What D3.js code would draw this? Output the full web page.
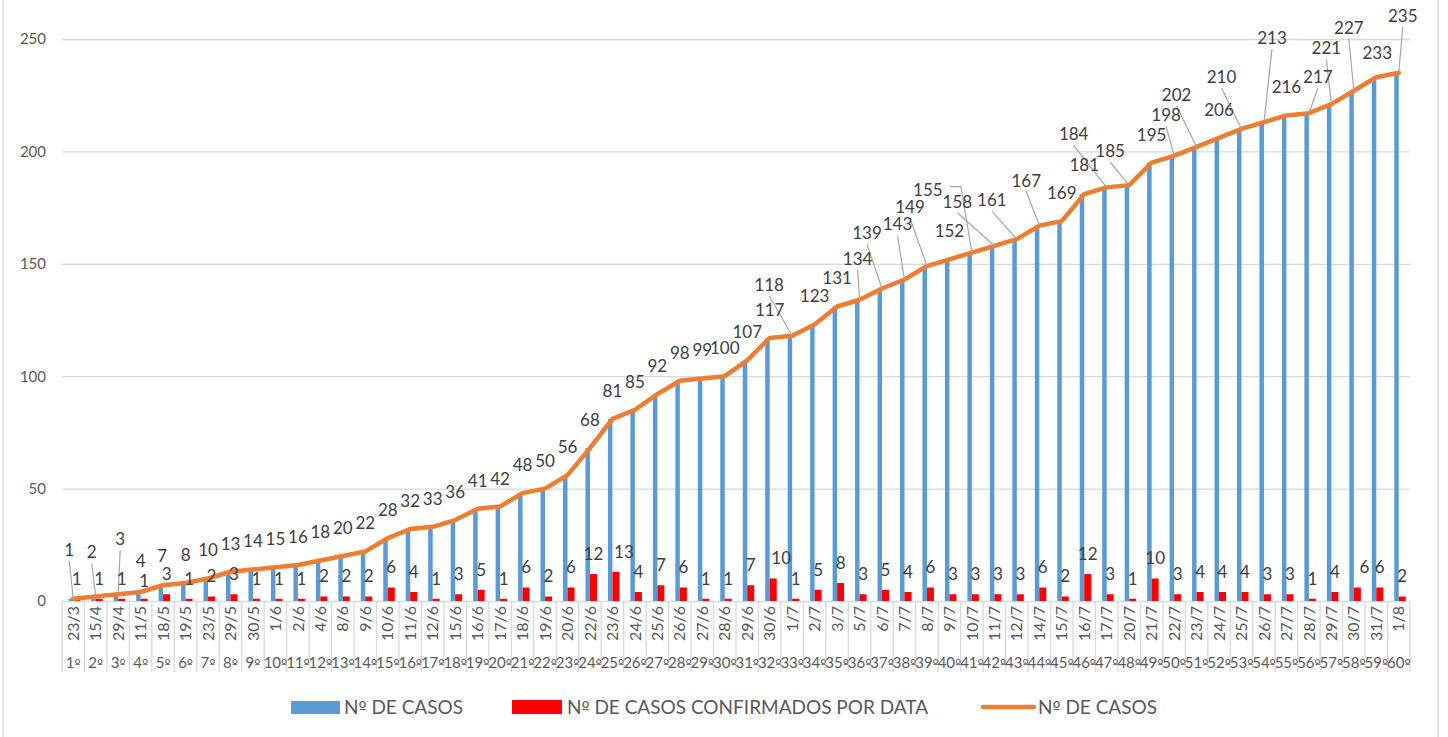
<!DOCTYPE html>
<html>
<head>
<meta charset="utf-8">
<script src="https://cdn.jsdelivr.net/npm/d3@7"></script>
<style>
  body { margin: 0; background: #fff; }
  text { font-family: Lato, "Open Sans", sans-serif; }
  .ord { font-family: "DejaVu Sans", sans-serif; }
</style>
</head>
<body>
<div id="chart"></div>
<script>
var svgWidth = 1448;
var svgHeight = 737;

var chartMargin = { top: 39, right: 38, bottom: 136, left: 62 };
var chartWidth = svgWidth - chartMargin.left - chartMargin.right;
var chartHeight = svgHeight - chartMargin.top - chartMargin.bottom;

// data
var dates = ["23/3","15/4","29/4","11/5","18/5","19/5","23/5","29/5","30/5","1/6",
  "2/6","4/6","8/6","9/6","10/6","11/6","12/6","15/6","16/6","17/6",
  "18/6","19/6","20/6","22/6","23/6","24/6","25/6","26/6","27/6","28/6",
  "29/6","30/6","1/7","2/7","3/7","5/7","6/7","7/7","8/7","9/7",
  "10/7","11/7","12/7","14/7","15/7","16/7","17/7","20/7","21/7","22/7",
  "23/7","24/7","25/7","26/7","27/7","28/7","29/7","30/7","31/7","1/8"];

var dayLabels = ["1º","2º","3º","4º","5º","6º","7º","8º","9º","10º",
  "11º","12º","13º","14º","15º","16º","17º","18º","19º","20º",
  "21º","22º","23º","24º","25º","26º","27º","28º","29º","30º",
  "31º","32º","33º","34º","35º","36º","37º","38º","39º","40º",
  "41º","42º","43º","44º","45º","46º","47º","48º","49º","50º",
  "51º","52º","53º","54º","55º","56º","57º","58º","59º","60º"];

var totalCases = [1,2,3,4,7,8,10,13,14,15,
  16,18,20,22,28,32,33,36,41,42,
  48,50,56,68,81,85,92,98,99,100,
  107,117,118,123,131,134,139,143,149,152,
  155,158,161,167,169,181,184,185,195,198,
  202,206,210,213,216,217,221,227,233,235];

var newCases = [1,1,1,1,3,1,2,3,1,1,
  1,2,2,2,6,4,1,3,5,1,
  6,2,6,12,13,4,7,6,1,1,
  7,10,1,5,8,3,5,4,6,3,
  3,3,3,6,2,12,3,1,10,3,
  4,4,4,3,3,1,4,6,6,2];

var yTicks = [0, 50, 100, 150, 200, 250];

var legendNames = ["Nº DE CASOS", "Nº DE CASOS CONFIRMADOS POR DATA", "Nº DE CASOS"];

// label nudges (dx, dy from the point) where excel moved the label and drew a leader
var lineLabelMoves = {
  0: [-4, -49], 1: [-4, -44], 2: [2, -55],
  32: [-23, -51], 35: [-2, -41], 36: [-15, -55], 37: [-7, -55], 38: [-17, -59],
  40: [-44, -63], 41: [-37, -44], 42: [-25, -39], 43: [-13, -45],
  46: [-33, -53], 47: [-19, -34], 49: [-8, -41], 50: [-20, -52],
  52: [-20, -52], 53: [8, -84], 55: [9, -36], 56: [-5, -56], 57: [-5, -63],
  59: [4, -57]
};
var lineLabelPlain = { 3: [0, -31], 4: [-1, -29], 45: [0, -29], 58: [1, -24] };
var barLabelMoves = { 24: [8, 0], 31: [8, 0], 57: [7, 0], 3: [0, 2] };

// splits "12º" so the ordinal sign can use a font that draws its bar
function ordText(sel, ordSize) {
  sel.each(function(d) {
    var t = d3.select(this);
    var parts = d.split("º");
    t.append("tspan").text(parts[0]);
    t.append("tspan").attr("class", "ord").style("font-size", ordSize).text("º");
    if (parts[1]) t.append("tspan").text(parts[1]);
  });
}

///////////////////////////////////////////////////////////////////////

var svg = d3.select("#chart")
  .append("svg")
  .attr("width", svgWidth)
  .attr("height", svgHeight);

// outer chart frame
svg.append("rect")
  .attr("x", 3).attr("y", -5)
  .attr("width", 1435).attr("height", svgHeight + 10)
  .attr("fill", "none")
  .attr("stroke", "#d9d9d9")
  .attr("stroke-width", 1.3);

var chartGroup = svg.append("g")
  .attr("transform", `translate(${chartMargin.left}, ${chartMargin.top})`);

var xScale = d3.scaleBand()
  .domain(dates)
  .range([0, chartWidth])
  .padding(0);

var yScale = d3.scaleLinear()
  .domain([0, 250])
  .range([chartHeight, 0]);

var bw = xScale.bandwidth();
var cx = function(i) { return xScale(dates[i]) + bw / 2; };

// gridlines + y labels
var yAxis = d3.axisLeft(yScale)
  .tickValues(yTicks)
  .tickSize(-chartWidth)
  .tickPadding(16);

chartGroup.append("g")
  .attr("class", "axis")
  .call(yAxis)
  .call(g => g.select(".domain").remove())
  .call(g => g.selectAll("line").attr("stroke", "#d9d9d9").attr("stroke-width", 1.3))
  .call(g => g.selectAll("text").attr("fill", "#595959").style("font-size", "15px"));

// category boxes under the axis
var sepX = dates.map(d => xScale(d)).concat([chartWidth]);
chartGroup.append("g")
  .selectAll("line")
  .data(sepX)
  .enter()
  .append("line")
  .attr("x1", d => d).attr("x2", d => d)
  .attr("y1", chartHeight).attr("y2", chartHeight + 71)
  .attr("stroke", "#d9d9d9")
  .attr("stroke-width", 1.3);

var xAxis = d3.axisBottom(xScale).tickSize(0).tickPadding(0);
chartGroup.append("g")
  .attr("class", "axis")
  .attr("transform", `translate(0, ${chartHeight})`)
  .call(xAxis)
  .call(g => g.select(".domain").remove())
  .selectAll("text")
  .attr("fill", "#595959")
  .style("font-size", "16px")
  .attr("transform", "rotate(-90)")
  .attr("x", -5)
  .attr("y", 0)
  .attr("dy", "0.35em")
  .attr("text-anchor", "end");

chartGroup.append("g")
  .selectAll("text")
  .data(dayLabels)
  .enter()
  .append("text")
  .attr("x", (d, i) => cx(i))
  .attr("y", chartHeight + 62)
  .attr("dy", "0.35em")
  .attr("text-anchor", "middle")
  .attr("fill", "#595959")
  .style("font-size", "15px")
  .call(ordText, "13px");

// bars
var blueW = 4.5, redW = 7;

chartGroup.selectAll(".bar-total")
  .data(totalCases)
  .enter()
  .append("rect")
  .attr("class", "bar-total")
  .attr("x", (d, i) => cx(i) - blueW)
  .attr("width", blueW)
  .attr("y", d => yScale(d))
  .attr("height", d => chartHeight - yScale(d))
  .attr("fill", "#5b9bd5");

chartGroup.selectAll(".bar-new")
  .data(newCases)
  .enter()
  .append("rect")
  .attr("class", "bar-new")
  .attr("x", (d, i) => cx(i))
  .attr("width", redW)
  .attr("y", d => yScale(d))
  .attr("height", d => chartHeight - yScale(d))
  .attr("fill", "#ff0000");

// line
var line = d3.line()
  .x((d, i) => cx(i))
  .y(d => yScale(d));

chartGroup.append("path")
  .datum(totalCases)
  .attr("d", line)
  .attr("fill", "none")
  .attr("stroke", "#ed7d31")
  .attr("stroke-width", 4.5)
  .attr("stroke-linejoin", "round")
  .attr("stroke-linecap", "round");

// line labels
var lineLabels = totalCases.map(function(v, i) {
  var px = cx(i), py = yScale(v);
  var mv = lineLabelMoves[i] || lineLabelPlain[i] || [0, -28];
  return { v: v, px: px, py: py, lx: px + mv[0], ly: py + mv[1], leader: !!lineLabelMoves[i] };
});

var leaderGroup = chartGroup.append("g");
lineLabels.filter(d => d.leader).forEach(function(d) {
  var pts;
  if (Math.abs(d.lx - d.px) > 40) {
    pts = [[d.lx + 22, d.ly - 3], [d.lx + 33, d.ly - 3], [d.px, d.py]];
  } else {
    pts = [[d.lx, d.ly + 11], [d.px, d.py]];
  }
  leaderGroup.append("path")
    .attr("d", d3.line()(pts))
    .attr("fill", "none")
    .attr("stroke", "#a6a6a6")
    .attr("stroke-width", 1.2);
});

chartGroup.append("g")
  .selectAll("text")
  .data(lineLabels)
  .enter()
  .append("text")
  .attr("x", d => d.lx)
  .attr("y", d => d.ly)
  .attr("dy", "0.35em")
  .attr("text-anchor", "middle")
  .attr("fill", "#404040")
  .style("font-size", "17px")
  .text(d => d.v);

// bar labels
chartGroup.append("g")
  .selectAll("text")
  .data(newCases)
  .enter()
  .append("text")
  .attr("x", (d, i) => cx(i) + redW / 2 + (barLabelMoves[i] ? barLabelMoves[i][0] : 0))
  .attr("y", (d, i) => yScale(d) - 20 + (barLabelMoves[i] ? barLabelMoves[i][1] : 0))
  .attr("dy", "0.35em")
  .attr("text-anchor", "middle")
  .attr("fill", "#404040")
  .style("font-size", "17px")
  .text(d => d);

// legend
var legend = svg.append("g").attr("transform", "translate(0, 707)");
var legendX = [291, 512, 982];
legendNames.forEach(function(name, i) {
  var item = legend.append("g").attr("transform", `translate(${legendX[i]}, 0)`);
  if (i === 0) {
    item.append("rect").attr("x", 0).attr("y", -6).attr("width", 49).attr("height", 13).attr("fill", "#5b9bd5");
  } else if (i === 1) {
    item.append("rect").attr("x", 0).attr("y", -7).attr("width", 50).attr("height", 14).attr("fill", "#ff0000");
  } else {
    item.append("line").attr("x1", 1).attr("x2", 52).attr("y1", 0).attr("y2", 0)
      .attr("stroke", "#ed7d31").attr("stroke-width", 4.5).attr("stroke-linecap", "round");
  }
  item.append("text")
    .datum(name)
    .attr("x", i === 1 ? 55 : (i === 0 ? 53 : 56))
    .attr("y", 0)
    .attr("dy", "0.35em")
    .attr("fill", "#595959")
    .style("font-size", "19px")
    .call(ordText, "17px");
});
</script>
</body>
</html>
